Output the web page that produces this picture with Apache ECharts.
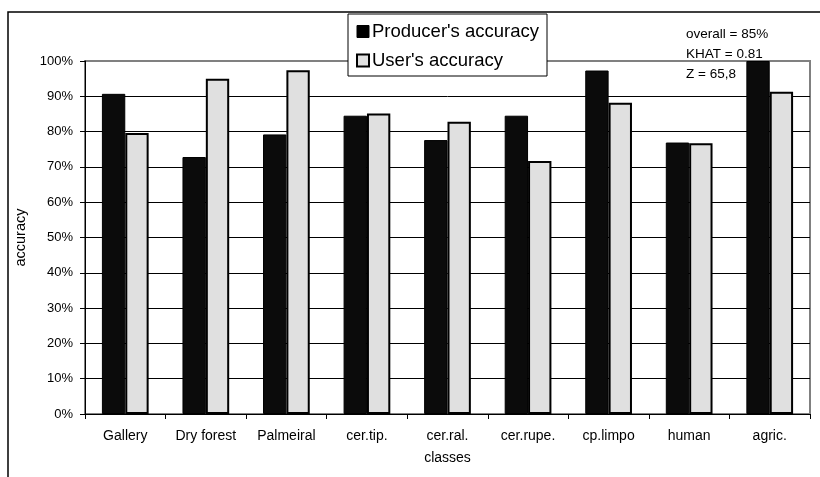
<!DOCTYPE html>
<html><head><meta charset="utf-8">
<script src="https://cdn.jsdelivr.net/npm/echarts@6/dist/echarts.min.js"></script>
<style>html,body{margin:0;padding:0;background:#fff}#c{width:820px;height:477px}</style>
</head><body><div id="c"></div>
<script>
const categories = ['Gallery','Dry forest','Palmeiral','cer.tip.','cer.ral.','cer.rupe.','cp.limpo','human','agric.'];
const producers = [90.7, 72.8, 79.2, 84.5, 77.6, 84.5, 97.3, 76.9, 100];
const users = [79.6, 95.0, 97.4, 85.1, 82.8, 71.7, 88.2, 76.7, 91.3];
const yTicks = [0,10,20,30,40,50,60,70,80,90,100];
const notes = ['overall = 85%','KHAT = 0.81','Z = 65,8'];
const FONT = "'Liberation Sans', Arial, sans-serif";

const chart = echarts.init(document.getElementById('c'));
const splitColors = yTicks.map((v,i)=> i===yTicks.length-1 ? '#808080' : '#000');
chart.setOption({
  animation:false,
  textStyle:{fontFamily:FONT,color:'#000'},
  grid:{left:85,right:10,top:61,bottom:63,show:true,borderColor:'#808080',borderWidth:2,backgroundColor:'transparent'},
  graphic:[
    {type:'rect',z:-1,shape:{x:8,y:12,width:830,height:480},style:{fill:'none',stroke:'#000',lineWidth:1.5}},
    {type:'text',left:686,top:24,style:{text:notes.join('\n'),font:"13.5px "+FONT,fill:'#000',lineHeight:20}}
  ],
  legend:{
    left:348,top:14,orient:'vertical',itemGap:10,itemWidth:12,itemHeight:12,icon:'rect',
    backgroundColor:'#fff',borderColor:'#000',borderWidth:1,padding:[8,8,6,8],
    textStyle:{fontSize:18.5,fontFamily:FONT,color:'#000',padding:[0,0,0,-2]},
    data:[{name:"Producer's accuracy",itemStyle:{color:'#000',borderColor:'#000',borderWidth:1}},
          {name:"User's accuracy",itemStyle:{color:'#e0e0e0',borderColor:'#000',borderWidth:2}}]
  },
  xAxis:{
    type:'category',data:categories,
    axisLine:{lineStyle:{color:'#000',width:1}},
    axisTick:{show:true,length:5,lineStyle:{color:'#000'}},
    axisLabel:{fontSize:14,color:'#000',margin:15,fontFamily:FONT,interval:0},
    name:'classes',nameLocation:'middle',nameGap:37,nameTextStyle:{fontSize:14,color:'#000',fontFamily:FONT}
  },
  yAxis:{
    type:'value',min:0,max:100,interval:10,
    axisLine:{show:true,lineStyle:{color:'#000',width:1}},
    axisTick:{show:true,length:5,lineStyle:{color:'#000'}},
    axisLabel:{fontSize:13,color:'#000',margin:12,fontFamily:FONT,formatter:v=>v+'%'},
    splitLine:{show:true,lineStyle:{color:splitColors,width:1}},
    name:'accuracy',nameLocation:'middle',nameGap:51,nameRotate:90,nameTextStyle:{fontSize:14.5,color:'#000',fontFamily:FONT}
  },
  series:[
    {name:"Producer's accuracy",type:'bar',data:producers,barGap:'0%',barCategoryGap:'42%',
     itemStyle:{color:'#0b0b0b',borderColor:'#000',borderWidth:1}},
    {name:"User's accuracy",type:'bar',data:users,
     itemStyle:{color:'#e0e0e0',borderColor:'#000',borderWidth:2}}
  ]
});
</script></body></html>
